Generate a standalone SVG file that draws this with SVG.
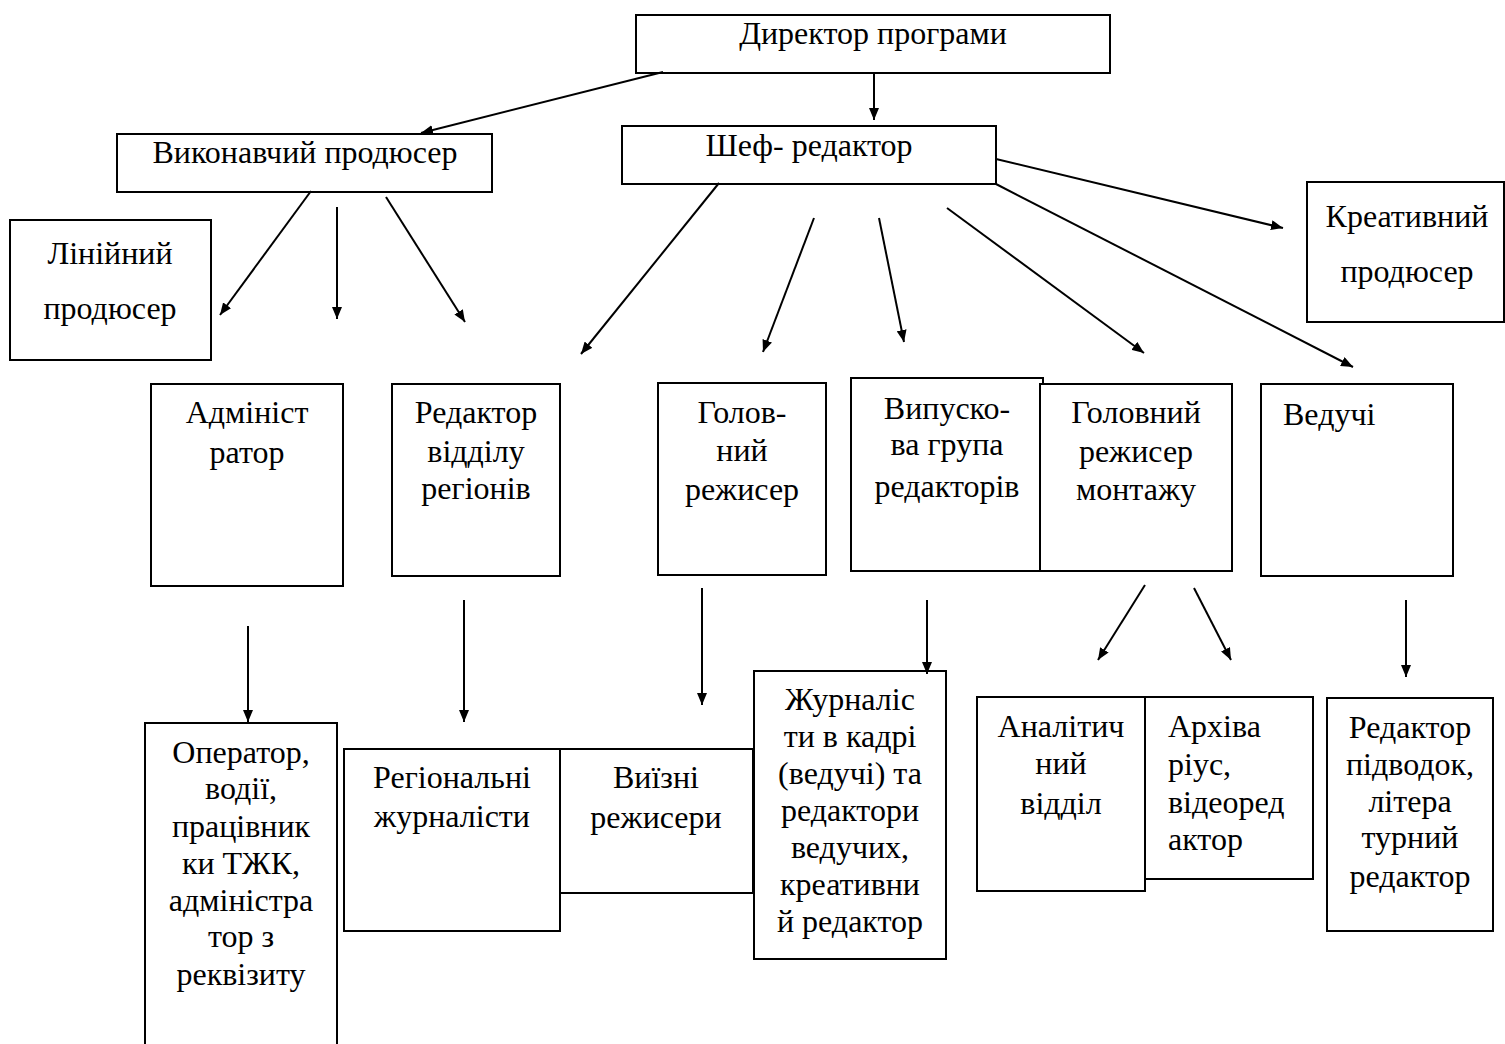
<svg xmlns="http://www.w3.org/2000/svg" width="1505" height="1044" viewBox="0 0 1505 1044">
<style>
  .box { fill: #ffffff; stroke: #000000; stroke-width: 2; }
  .t { font-family: "Liberation Serif", "Times New Roman", serif; font-size: 32px; fill: #000000; text-anchor: middle; }
  .l { text-anchor: start; }
  .c { stroke: #000000; stroke-width: 2; fill: none; marker-end: url(#ah); }
</style>
<defs>
  <marker id="ah" viewBox="0 0 12 10" refX="12" refY="5" markerWidth="12" markerHeight="10" markerUnits="userSpaceOnUse" orient="auto">
    <path d="M0,0 L12,5 L0,10 Z" fill="#000000"/>
  </marker>
</defs>
<rect width="1505" height="1044" fill="#ffffff"/>

<g id="director">
  <rect class="box" x="636" y="15" width="474" height="58"/>
  <text class="t" x="873" y="44">Директор програми</text>
</g>
<g id="exec-producer">
  <rect class="box" x="117" y="134" width="375" height="58"/>
  <text class="t" x="305" y="163">Виконавчий продюсер</text>
</g>
<g id="chief-editor">
  <rect class="box" x="622" y="126" width="374" height="58"/>
  <text class="t" x="809" y="156">Шеф- редактор</text>
</g>
<g id="line-producer">
  <rect class="box" x="10" y="220" width="201" height="140"/>
  <text class="t" x="110" y="264">Лінійний</text>
  <text class="t" x="110" y="319">продюсер</text>
</g>
<g id="creative-producer">
  <rect class="box" x="1307" y="182" width="197" height="140"/>
  <text class="t" x="1407" y="227">Креативний</text>
  <text class="t" x="1407" y="282">продюсер</text>
</g>
<g id="administrator">
  <rect class="box" x="151" y="384" width="192" height="202"/>
  <text class="t" x="247" y="423">Адмініст</text>
  <text class="t" x="247" y="463">ратор</text>
</g>
<g id="regions-editor">
  <rect class="box" x="392" y="384" width="168" height="192"/>
  <text class="t" x="476" y="423">Редактор</text>
  <text class="t" x="476" y="462">відділу</text>
  <text class="t" x="476" y="499">регіонів</text>
</g>
<g id="chief-director">
  <rect class="box" x="658" y="383" width="168" height="192"/>
  <text class="t" x="742" y="423">Голов-</text>
  <text class="t" x="742" y="461">ний</text>
  <text class="t" x="742" y="500">режисер</text>
</g>
<g id="release-group">
  <rect class="box" x="851" y="378" width="192" height="193"/>
  <text class="t" x="947" y="419">Випуско-</text>
  <text class="t" x="947" y="455">ва група</text>
  <text class="t" x="947" y="497">редакторів</text>
</g>
<g id="montage-director">
  <rect class="box" x="1040" y="384" width="192" height="187"/>
  <text class="t" x="1136" y="423">Головний</text>
  <text class="t" x="1136" y="462">режисер</text>
  <text class="t" x="1136" y="500">монтажу</text>
</g>
<g id="hosts">
  <rect class="box" x="1261" y="384" width="192" height="192"/>
  <text class="t l" x="1283" y="425">Ведучі</text>
</g>
<g id="operators">
  <rect class="box" x="145" y="723" width="192" height="340"/>
  <text class="t" x="241" y="763">Оператор,</text>
  <text class="t" x="241" y="799">водії,</text>
  <text class="t" x="241" y="837">працівник</text>
  <text class="t" x="241" y="874">ки ТЖК,</text>
  <text class="t" x="241" y="911">адміністра</text>
  <text class="t" x="241" y="947">тор з</text>
  <text class="t" x="241" y="985">реквізиту</text>
</g>
<g id="regional-journalists">
  <rect class="box" x="344" y="749" width="216" height="182"/>
  <text class="t" x="452" y="788">Регіональні</text>
  <text class="t" x="452" y="827">журналісти</text>
</g>
<g id="field-directors">
  <rect class="box" x="560" y="749" width="193" height="144"/>
  <text class="t" x="656" y="788">Виїзні</text>
  <text class="t" x="656" y="828">режисери</text>
</g>
<g id="on-air-journalists">
  <rect class="box" x="754" y="671" width="192" height="288"/>
  <text class="t" x="850" y="710">Журналіс</text>
  <text class="t" x="850" y="747">ти в кадрі</text>
  <text class="t" x="850" y="784">(ведучі) та</text>
  <text class="t" x="850" y="821">редактори</text>
  <text class="t" x="850" y="858">ведучих,</text>
  <text class="t" x="850" y="895">креативни</text>
  <text class="t" x="850" y="932">й редактор</text>
</g>
<g id="analytics">
  <rect class="box" x="977" y="697" width="168" height="194"/>
  <text class="t" x="1061" y="737">Аналітич</text>
  <text class="t" x="1061" y="774">ний</text>
  <text class="t" x="1061" y="814">відділ</text>
</g>
<g id="archivist">
  <rect class="box" x="1145" y="697" width="168" height="182"/>
  <text class="t l" x="1168" y="737">Архіва</text>
  <text class="t l" x="1168" y="775">ріус,</text>
  <text class="t l" x="1168" y="813">відеоред</text>
  <text class="t l" x="1168" y="850">актор</text>
</g>
<g id="subtitle-editor">
  <rect class="box" x="1327" y="698" width="166" height="233"/>
  <text class="t" x="1410" y="738">Редактор</text>
  <text class="t" x="1410" y="775">підводок,</text>
  <text class="t" x="1410" y="812">літера</text>
  <text class="t" x="1410" y="848">турний</text>
  <text class="t" x="1410" y="887">редактор</text>
</g>

<g id="connectors">
  <line class="c" x1="663" y1="72" x2="421" y2="133"/>
  <line class="c" x1="874" y1="73" x2="874" y2="120"/>
  <line class="c" x1="311" y1="191" x2="220" y2="315"/>
  <line class="c" x1="337" y1="207" x2="337" y2="319"/>
  <line class="c" x1="386" y1="197" x2="465" y2="322"/>
  <line class="c" x1="719" y1="183" x2="581" y2="354"/>
  <line class="c" x1="814" y1="218" x2="763" y2="352"/>
  <line class="c" x1="879" y1="218" x2="904" y2="342"/>
  <line class="c" x1="947" y1="208" x2="1144" y2="353"/>
  <line class="c" x1="996" y1="184" x2="1353" y2="367"/>
  <line class="c" x1="996" y1="159" x2="1283" y2="228"/>
  <line class="c" x1="248" y1="626" x2="248" y2="722"/>
  <line class="c" x1="464" y1="600" x2="464" y2="722"/>
  <line class="c" x1="702" y1="588" x2="702" y2="705"/>
  <line class="c" x1="927" y1="600" x2="927" y2="674"/>
  <line class="c" x1="1145" y1="585" x2="1098" y2="660"/>
  <line class="c" x1="1194" y1="588" x2="1231" y2="660"/>
  <line class="c" x1="1406" y1="600" x2="1406" y2="677"/>
</g>
</svg>
